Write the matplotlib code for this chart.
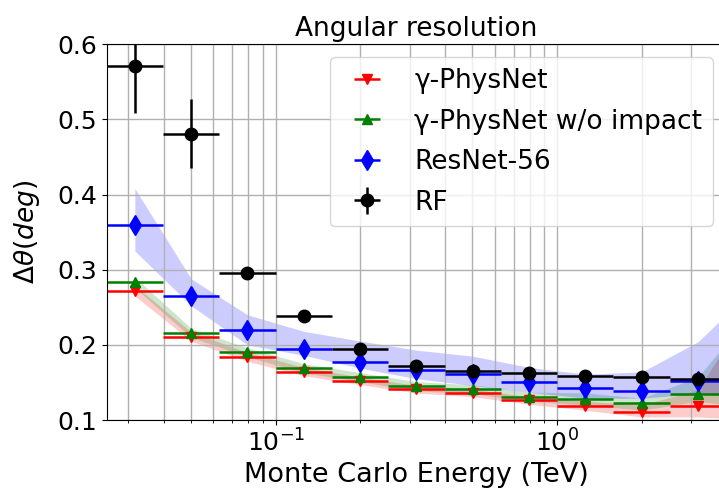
import numpy as np
import matplotlib
matplotlib.use('Agg')
import matplotlib.pyplot as plt

plt.rcParams['font.size'] = 18

# energy bins (TeV)
centers = [0.0316, 0.0501, 0.0794, 0.126, 0.200, 0.316, 0.501, 0.794, 1.26, 2.00, 3.16]
lo_edges = [0.0251, 0.0398, 0.0631, 0.100, 0.158, 0.251, 0.398, 0.631, 1.00, 1.58, 2.51]
hi_edges = [0.0398, 0.0631, 0.100, 0.158, 0.251, 0.398, 0.631, 1.00, 1.58, 2.51, 3.98]

physnet = [0.272, 0.211, 0.184, 0.164, 0.152, 0.141, 0.136, 0.126, 0.119, 0.110, 0.118]
noimpact = [0.283, 0.216, 0.190, 0.169, 0.157, 0.145, 0.141, 0.131, 0.128, 0.122, 0.134]
resnet = [0.360, 0.265, 0.220, 0.194, 0.177, 0.166, 0.161, 0.150, 0.143, 0.138, 0.152]
rf = [0.571, 0.481, 0.296, 0.238, 0.195, 0.172, 0.165, 0.162, 0.159, 0.157, 0.154]
rf_err = [0.063, 0.046, 0.005, 0.004, 0.004, 0.003, 0.003, 0.003, 0.003, 0.003, 0.010]

# bands go one bin further than the visible range
band_x = [0.0316, 0.0501, 0.0794, 0.126, 0.200, 0.316, 0.501, 0.794, 1.26, 2.00, 3.16, 5.01]
physnet_lo = [0.265, 0.205, 0.178, 0.159, 0.147, 0.136, 0.131, 0.121, 0.113, 0.104, 0.104, 0.100]
physnet_hi = [0.279, 0.217, 0.190, 0.170, 0.157, 0.146, 0.141, 0.131, 0.125, 0.120, 0.140, 0.257]
noimpact_lo = [0.276, 0.210, 0.184, 0.163, 0.151, 0.139, 0.135, 0.125, 0.120, 0.113, 0.125, 0.115]
noimpact_hi = [0.290, 0.222, 0.196, 0.175, 0.163, 0.151, 0.147, 0.137, 0.136, 0.129, 0.157, 0.246]
resnet_lo = [0.325, 0.252, 0.200, 0.186, 0.169, 0.155, 0.146, 0.137, 0.129, 0.129, 0.135, 0.130]
resnet_hi = [0.408, 0.288, 0.240, 0.218, 0.205, 0.193, 0.185, 0.170, 0.161, 0.164, 0.204, 0.275]

c = np.array(centers)
xerr = [c - np.array(lo_edges), np.array(hi_edges) - c]

fig = plt.figure(figsize=(7.19, 4.95), dpi=100)
ax1 = fig.add_axes([106.7/719, 75/495, (726-106.7)/719, (420-44.3)/495])

ax1.fill_between(band_x, physnet_lo, physnet_hi, color='red', alpha=0.2, lw=0)
ax1.fill_between(band_x, noimpact_lo, noimpact_hi, color='green', alpha=0.2, lw=0)
ax1.fill_between(band_x, resnet_lo, resnet_hi, color='blue', alpha=0.2, lw=0)

ax1.errorbar(centers, physnet, xerr=xerr, fmt='v', color='red', ms=7.5, elinewidth=1.8, label='γ-PhysNet')
ax1.errorbar(centers, noimpact, xerr=xerr, fmt='^', color='green', ms=7.5, elinewidth=1.8, label='γ-PhysNet w/o impact')
ax1.errorbar(centers, resnet, xerr=xerr, fmt='d', color='blue', ms=10, elinewidth=1.8, label='ResNet-56')
ax1.errorbar(centers, rf, xerr=xerr, yerr=rf_err, fmt='o', color='black', ms=9, elinewidth=1.8, label='RF')

ax1.set_xscale('log')
ax1.set_xlim(0.0251, 3.98)
ax1.set_ylim(0.1, 0.6)
ax1.grid(True, which='both', color='#b0b0b0', lw=1)
ax1.set_xlabel('Monte Carlo Energy (TeV)', fontsize=19.5)
ax1.set_ylabel(r'$\mathit{\Delta\theta(deg)}$', fontsize=19, labelpad=11)
ax1.set_title('Angular resolution', fontsize=19)
ax1.legend(loc='upper right', fontsize=19, labelspacing=0.55)

fig.savefig('out.png', dpi=100)
